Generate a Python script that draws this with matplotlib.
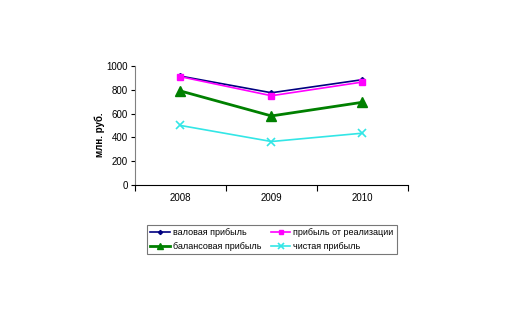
import matplotlib
matplotlib.use("Agg")
import matplotlib.pyplot as plt
import numpy as np

plt.rcParams['font.family'] = ['Liberation Sans', 'DejaVu Sans']

years = ["2008", "2009", "2010"]
gross_profit = [915, 775, 885]
sales_profit = [910, 750, 865]
balance_profit = [790, 580, 695]
net_profit = [500, 365, 435]

series_labels = ["валовая прибыль", "прибыль от реализации",
                 "балансовая прибыль", "чистая прибыль"]

fig = plt.figure(figsize=(5.25, 3.35), dpi=100)
ax = fig.add_axes([0.257, 0.448, 0.520, 0.355])

x = np.arange(len(years))
h1, = ax.plot(x, gross_profit, color="#000080", marker="D", markersize=3,
              lw=1.2, label=series_labels[0])
h2, = ax.plot(x, sales_profit, color="#FF00FF", marker="s", markersize=4,
              lw=1.2, label=series_labels[1])
h3, = ax.plot(x, balance_profit, color="#008000", marker="^", markersize=7,
              lw=2, label=series_labels[2])
h4, = ax.plot(x, net_profit, color="#33E6E6", marker="x", markersize=6,
              lw=1.2, mew=1.2, label=series_labels[3])

ax.set_xlim(-0.5, 2.5)
ax.set_ylim(0, 1000)
ax.set_yticks(np.arange(0, 1001, 200))
ax.set_xticks([-0.5, 0.5, 1.5, 2.5])
ax.set_xticklabels([])
ax.set_xticks(x, minor=True)
ax.set_xticklabels(years, minor=True)
ax.tick_params(axis="x", which="minor", length=0, pad=6, labelsize=7)
ax.tick_params(axis="x", which="major", length=4, width=0.8, direction="out")
ax.tick_params(axis="y", length=3, width=0.8, labelsize=7, pad=2)

for side in ("top", "right"):
    ax.spines[side].set_visible(False)
ax.spines["left"].set_color("#808080")
ax.spines["bottom"].set_color("black")

ax.set_ylabel("млн. руб.", fontsize=7, fontweight="bold")
ax.yaxis.set_label_coords(-0.11, 0.42)

# two rows: gross / sales on the first, balance / net on the second
leg = fig.legend([h1, h3, h2, h4],
                 [series_labels[0], series_labels[2],
                  series_labels[1], series_labels[3]],
                 loc="center", bbox_to_anchor=(0.518, 0.285), ncol=2,
                 fontsize=6.5, frameon=True, fancybox=False,
                 edgecolor="#555555", handlelength=2.2, handletextpad=0.3,
                 columnspacing=1.0, borderpad=0.4, markerscale=0.7)
leg.get_frame().set_linewidth(0.8)

fig.savefig("out.png", dpi=100)
